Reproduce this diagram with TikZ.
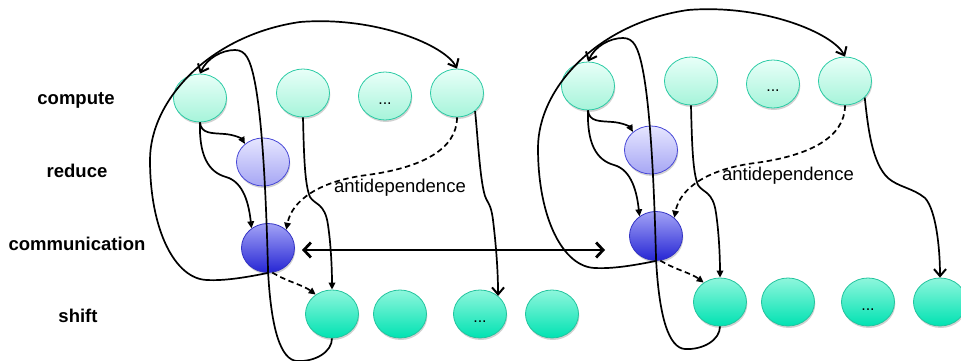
\documentclass[tikz,border=0pt]{standalone}
\usepackage{fontspec}
\setmainfont{Liberation Sans}
\usetikzlibrary{arrows.meta,shadows,shapes.geometric}
\definecolor{cmpTop}{HTML}{E8FFF8}
\definecolor{cmpBot}{HTML}{A6F4DA}
\definecolor{cmpLine}{HTML}{2BCBA5}
\definecolor{shTop}{HTML}{8EF6DC}
\definecolor{shBot}{HTML}{00E2B2}
\definecolor{shLine}{HTML}{22C49E}
\definecolor{redTop}{HTML}{E6E6FF}
\definecolor{redBot}{HTML}{A6A6F4}
\definecolor{redLine}{HTML}{4646D6}
\definecolor{comTop}{HTML}{A2A2F6}
\definecolor{comBot}{HTML}{2626D4}
\definecolor{comLine}{HTML}{3434C4}
\tikzset{
 blob/.style={ellipse, minimum width=53pt, minimum height=48pt, inner sep=0pt,
   line width=0.8pt, text height=16pt, text depth=0pt,
   drop shadow={shadow xshift=0.8pt, shadow yshift=-2pt, opacity=0.18, fill=black}},
 cnode/.style={blob, draw=cmpLine, top color=cmpTop, bottom color=cmpBot},
 snode/.style={blob, draw=shLine, top color=shTop, bottom color=shBot},
 rnode/.style={blob, draw=redLine, top color=redTop, bottom color=redBot},
 mnode/.style={blob, draw=comLine, top color=comTop, bottom color=comBot, minimum height=49pt},
 conn/.style={line width=1.7pt, draw=black},
 smallarrow/.style={conn, -{Triangle[length=7pt,width=6.5pt]}},
 barbarrow/.style={conn, -{Straight Barb[length=7pt,width=12pt,line width=2pt]}},
 dasharrow/.style={smallarrow, dash pattern=on 5.5pt off 3.5pt},
 bigarrow/.style={line width=2.8pt, draw=black, {Straight Barb[length=7pt,width=15pt]}-{Straight Barb[length=7pt,width=15pt]}},
 rowlabel/.style={font=\fontsize{18.5}{22}\selectfont\bfseries},
 dotlabel/.style={font=\fontsize{16}{18}\selectfont},
 antilabel/.style={font=\fontsize{18.5}{22}\selectfont},
}
\newcommand{\drawgroup}[1]{%
 \node[cnode] (C1) at (200,98) {};
 \node[cnode] (C2) at (303,93) {};
 \node[cnode, dotlabel] (C3) at (385,96) {...};
 \node[cnode] (C4) at (457,93) {};
 \node[rnode] (R) at (263,162) {};
 \node[mnode] (M) at (268,248) {};
 \node[snode] (S1) at (332,314) {};
 \node[snode] (S2) at (400,314) {};
 \node[snode, dotlabel] (S3) at (480,314) {...};
 \node[snode] (S4) at (552,314) {};
 \node[antilabel] (anti) at (400,188) {antidependence};
 \draw[smallarrow] (C1.south) .. controls (201,134) and (212,133) .. (225,134)
    .. controls (236,135) and (242,139) .. (R.135);
 \draw[smallarrow] (C1.south) .. controls (199,155) and (208,172) .. (226,177)
    .. controls (244,182) and (249,205) .. (M.130);
 \draw[smallarrow] (C2.south) .. controls (304,160) and (305,185) .. (310,197)
    .. controls (315,205) and (325,203) .. (328,225)
    .. controls (331,245) and (332,270) .. (S1.north);
 \draw[dasharrow] (C4.south) .. controls (457,150) and (420,168) .. (367,175)
    .. controls (320,181) and (292,200) .. (M.45);
 \draw[dasharrow] (M.-80) .. controls (288,282) and (303,285) .. (S1.130);
 \draw[barbarrow] (M.south) .. controls (248,277) and (225,281) .. (207,280)
    .. controls (175,279) and (150,230) .. (150,160)
    .. controls (150,100) and (210,35) .. (300,22)
    .. controls (375,16) and (445,45) .. (C4.north);
 \draw[barbarrow] (S1.south) .. controls (332,352) and (315,362) .. (297,361)
    .. controls (281,360) and (271,330) .. (268,270)
    .. controls (266,190) and (262,115) .. (254,78)
    .. controls (250,60) and (246,50) .. (235,50)
    .. controls (222,50) and (207,58) .. (C1.north);
 #1
}
\begin{document}
\begin{tikzpicture}[x=1pt,y=-1pt]
\useasboundingbox (0,0) rectangle (961,361);
\node[rowlabel] (lcompute) at (76,100) {compute};
\node[rowlabel] (lreduce) at (77,171) {reduce};
\node[rowlabel] (lcomm) at (77,244) {communication};
\node[rowlabel] (lshift) at (78,316) {shift};
\begin{scope}[name prefix=l-]
\drawgroup{\draw[barbarrow] (C4.-45) .. controls (478,140) and (480,180) .. (485,196)
    .. controls (488,204) and (491,204) .. (493,220)
    .. controls (496,245) and (498,270) .. (S3.45);}
\end{scope}
\begin{scope}[name prefix=r-, shift={(388,-12)}]
\drawgroup{\draw[barbarrow] (C4.-40) .. controls (480,140) and (484,175) .. (500,190)
    .. controls (510,199) and (525,200) .. (537,210)
    .. controls (548,222) and (552,260) .. (S4.north);}
\end{scope}
\coordinate (dL) at (302,250);
\coordinate (dR) at (605,250);
\draw[bigarrow] (dL) -- (dR);
\end{tikzpicture}
\end{document}
